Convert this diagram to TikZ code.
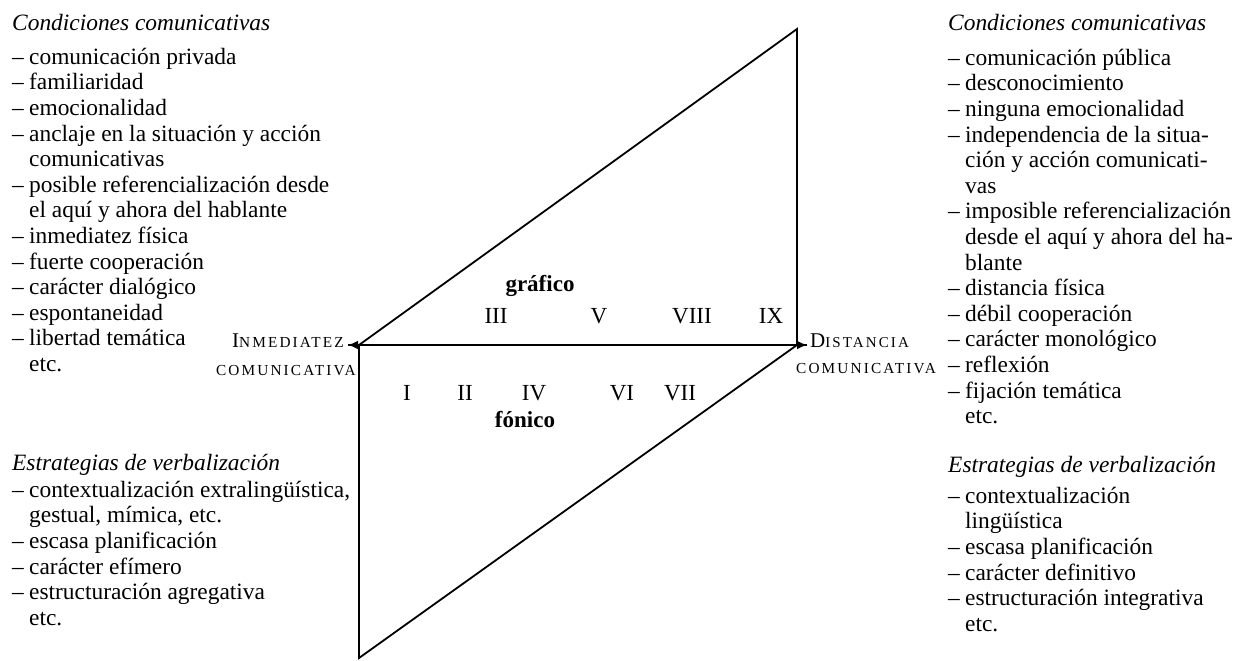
\documentclass[tikz,border=0pt]{standalone}
\usepackage{fontspec}
\setmainfont{Liberation Serif}
\newfontfamily\scf[LetterSpace=14]{Liberation Serif}
\usetikzlibrary{arrows.meta}
\newcommand{\itm}{\makebox[17pt][l]{–}}
\newcommand{\cnt}{\hspace*{17pt}}
\newcommand{\firstline}{\rule{0pt}{20pt}}
\begin{document}
\begin{tikzpicture}[x=1pt,y=-1pt,
  txt/.style={font=\fontsize{23.4}{25.6}\selectfont, inner sep=0pt, align=left, anchor=north west},
  head/.style={font=\fontsize{23.4}{25.6}\selectfont\itshape, inner sep=0pt, anchor=base west},
  num/.style={font=\fontsize{23}{23}\selectfont, inner sep=0pt, anchor=base},
  mode/.style={font=\fontsize{23}{23}\selectfont\bfseries, inner sep=0pt, anchor=base},
  lab/.style={inner sep=0pt},
  edge/.style={line width=1.8pt, line join=miter},
  tip/.style={-{Latex[length=10pt,width=9pt]}}]
\useasboundingbox[fill=white] (0,0) rectangle (1237,661);

% left column
\node[head] (lh1) at (12,31) {Condiciones comunicativas};
\node[txt] (lb1) at (12,44) {\firstline\itm comunicación privada\\
\itm familiaridad\\
\itm emocionalidad\\
\itm anclaje en la situación y acción\\
\cnt comunicativas\\
\itm posible referencialización desde\\
\cnt el aquí y ahora del hablante\\
\itm inmediatez física\\
\itm fuerte cooperación\\
\itm carácter dialógico\\
\itm espontaneidad\\
\itm libertad temática\\
\cnt etc.};
\node[head] (lh2) at (12,470) {Estrategias de verbalización};
\node[txt] (lb2) at (12,477) {\firstline\itm contextualización extralingüística,\\
\cnt gestual, mímica, etc.\\
\itm escasa planificación\\
\itm carácter efímero\\
\itm estructuración agregativa\\
\cnt etc.};

% right column
\node[head] (rh1) at (948,31) {Condiciones comunicativas};
\node[txt] (rb1) at (948,45) {\firstline\itm comunicación pública\\
\itm desconocimiento\\
\itm ninguna emocionalidad\\
\itm independencia de la situa-\\
\cnt ción y acción comunicati-\\
\cnt vas\\
\itm imposible referencialización\\
\cnt desde el aquí y ahora del ha-\\
\cnt blante\\
\itm distancia física\\
\itm débil cooperación\\
\itm carácter monológico\\
\itm reflexión\\
\itm fijación temática\\
\cnt etc.};
\node[head] (rh2) at (948,472) {Estrategias de verbalización};
\node[txt] (rb2) at (948,483) {\firstline\itm contextualización\\
\cnt lingüística\\
\itm escasa planificación\\
\itm carácter definitivo\\
\itm estructuración integrativa\\
\cnt etc.};

% diagram
\coordinate (L) at (359,345);
\coordinate (R) at (797,345);
\coordinate (T) at (797,29);
\coordinate (B) at (359,658);
\coordinate (La) at (348,345);
\coordinate (Ra) at (807,345);
\draw[edge] (L) -- (T) -- (R);
\draw[edge] (L) -- (B) -- (R);
\draw[edge,tip] (L) -- (La);
\draw[edge,tip] (R) -- (Ra);
\draw[edge] (La) -- (Ra);

% pole labels
\node[lab, anchor=base east] (inm) at (344,347) {{\fontsize{21}{21}\selectfont I}{\scf\fontsize{15.3}{15.3}\selectfont NMEDIATEZ}};
\node[lab, anchor=base east] (inm2) at (356,375) {{\scf\fontsize{15.3}{15.3}\selectfont COMUNICATIVA}};
\node[lab, anchor=base west] (dis) at (810,347) {{\fontsize{21}{21}\selectfont D}{\scf\fontsize{15}{15}\selectfont ISTANCIA}};
\node[lab, anchor=base west] (dis2) at (796,373) {{\scf\fontsize{15.3}{15.3}\selectfont COMUNICATIVA}};

% mode labels and numerals
\node[mode] (graf) at (540,291) {gráfico};
\node[mode] (fon) at (525,427) {fónico};
\node[num] (n3) at (496,323) {III};
\node[num] (n5) at (599,323) {V};
\node[num] (n8) at (692,323) {VIII};
\node[num] (n9) at (771,323) {IX};
\node[num] (n1) at (407,400) {I};
\node[num] (n2) at (465,400) {II};
\node[num] (n4) at (534,400) {IV};
\node[num] (n6) at (622,400) {VI};
\node[num] (n7) at (680,400) {VII};
\end{tikzpicture}
\end{document}
